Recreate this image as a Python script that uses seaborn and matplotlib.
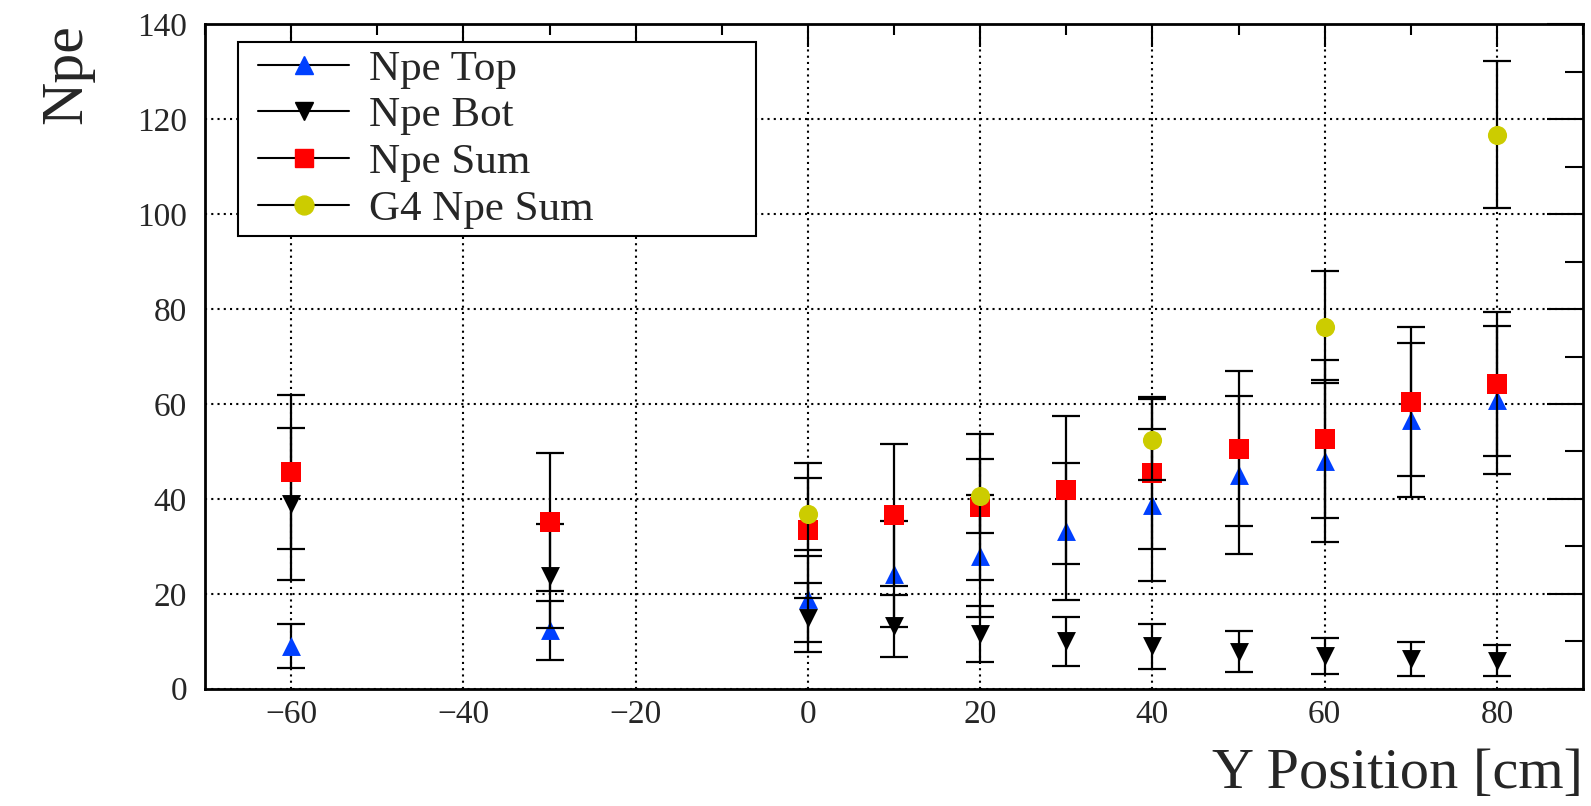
import matplotlib
matplotlib.use("Agg")
import matplotlib.pyplot as plt
from matplotlib.lines import Line2D
from matplotlib.legend_handler import HandlerLine2D
from matplotlib.ticker import MultipleLocator
import seaborn as sns

# ---- data ----
y_pos = [-60, -30, 0, 10, 20, 30, 40, 50, 60, 70, 80]
npe_top = [9.0, 12.3, 18.9, 24.2, 28.0, 33.2, 38.7, 45.0, 48.0, 56.6, 60.8]
npe_top_err = [4.6, 6.2, 9.0, 11.1, 12.8, 14.4, 16.0, 16.7, 17.0, 16.2, 15.6]
npe_bot = [39.0, 23.7, 15.0, 13.2, 11.5, 10.0, 8.9, 7.8, 6.8, 6.2, 5.9]
npe_bot_err = [16.0, 11.0, 7.3, 6.5, 5.9, 5.2, 4.8, 4.3, 3.8, 3.6, 3.3]
npe_sum = [45.7, 35.1, 33.4, 36.6, 38.3, 41.8, 45.4, 50.6, 52.6, 60.5, 64.2]
npe_sum_err = [16.3, 14.6, 14.2, 14.9, 15.3, 15.6, 16.0, 16.4, 16.6, 15.7, 15.1]
g4_pos = [0, 20, 40, 60, 80]
g4_sum = [36.8, 40.6, 52.5, 76.2, 116.8]
g4_sum_err = [7.6, 7.8, 8.6, 11.8, 15.4]

labels = ["Npe Top", "Npe Bot", "Npe Sum", "G4 Npe Sum"]
xlabel = "Y Position [cm]"
ylabel = "Npe"

# ---- style ----
sns.set_theme(style="white")
plt.rcParams["font.family"] = ["Liberation Serif", "DejaVu Serif"]
plt.rcParams["axes.unicode_minus"] = True

BLUE = "#0040ff"
RED = "#ff0000"
YELLOW = "#cccc00"

fig = plt.figure(figsize=(15.91, 8.06), dpi=100)
ax = fig.add_axes([0.1289, 0.1455, 0.995 - 0.1289, 0.9697 - 0.1455])

series = [
    (y_pos, npe_top, npe_top_err, "^", BLUE, 185),
    (y_pos, npe_bot, npe_bot_err, "v", "black", 185),
    (y_pos, npe_sum, npe_sum_err, "s", RED, 200),
    (g4_pos, g4_sum, g4_sum_err, "o", YELLOW, 190),
]

for i, (xs, ys, es, mk, col, sz) in enumerate(series):
    ax.errorbar(xs, ys, yerr=es, fmt="none", ecolor="black", elinewidth=1.6,
                capsize=10.4, capthick=1.6, zorder=2 + 2 * i)
    sns.scatterplot(x=xs, y=ys, marker=mk, s=sz, color=col, linewidth=0,
                    ax=ax, zorder=3 + 2 * i, legend=False)

ax.set_xlim(-70, 90)
ax.set_ylim(0, 140)
ax.xaxis.set_major_locator(MultipleLocator(20))
ax.xaxis.set_minor_locator(MultipleLocator(10))
ax.yaxis.set_major_locator(MultipleLocator(20))
ax.yaxis.set_minor_locator(MultipleLocator(10))

ax.tick_params(axis="both", which="both", direction="in", top=True, right=True,
               color="black", width=1.5, labelsize=24)
ax.tick_params(axis="x", which="major", length=16.5, pad=8)
ax.tick_params(axis="x", which="minor", length=8)
ax.tick_params(axis="y", which="major", length=26, pad=13)
ax.tick_params(axis="y", which="minor", length=13)

for sp in ax.spines.values():
    sp.set_color("black")
    sp.set_linewidth(2)

ax.grid(True, which="major", color="black", linestyle=(0, (1, 2)), linewidth=1.5)

ax.set_xlabel(xlabel, loc="right", fontsize=42, labelpad=13)
ax.set_ylabel(ylabel, loc="top", fontsize=43, labelpad=31)

handles = [Line2D([], [], color="black", lw=1.5, marker=mk, markersize=13.6,
                  markerfacecolor=col, markeredgecolor=col)
           for (_, _, _, mk, col, _) in series]
leg = fig.legend(handles, labels, loc="upper left",
                 bbox_to_anchor=(238.3 / 1591, (806 - 233.3) / 806, 517.4 / 1591, 191.6 / 806),
                 mode="expand", borderaxespad=0, fontsize=31, frameon=True, fancybox=False,
                 framealpha=1, edgecolor="black", borderpad=0.18,
                 labelspacing=0.175, handlelength=2.4, handletextpad=0.45,
                 handler_map={Line2D: HandlerLine2D(numpoints=1, xpad=0.28)})
leg.get_frame().set_linewidth(1.5)
leg.set_zorder(20)

fig.savefig("out.png", dpi=100)
